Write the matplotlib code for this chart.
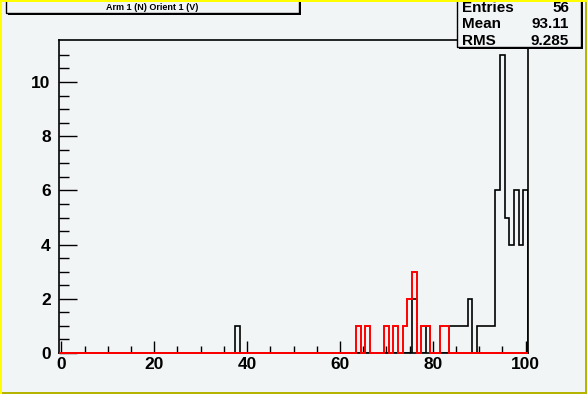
import numpy as np
import matplotlib.pyplot as plt
from matplotlib.patches import Rectangle

# datos del histograma (bins de ancho 1, centrados en enteros 0..100)
black_bins = [38, 76, 79, 84, 85, 86, 87, 88, 90, 91, 92, 93, 94, 95, 96, 97, 98, 99, 100]
black_counts = [1, 2, 1, 1, 1, 1, 1, 2, 1, 1, 1, 1, 6, 11, 5, 4, 6, 4, 6]
red_bins = [64, 66, 70, 72, 74, 75, 76, 78, 79, 82, 83]
red_counts = [1, 1, 1, 1, 1, 2, 3, 1, 1, 1, 1]

title = "Arm 1 (N) Orient 1 (V)"
stat_names = ["Entries", "Mean", "RMS"]
stat_values = ["56", "93.11", "9.285"]

W, H = 587, 394
BG = '#f2f5f6'

edges = np.arange(-0.5, 101.5, 1.0)
black = np.zeros(101)
black[black_bins] = black_counts
red = np.zeros(101)
red[red_bins] = red_counts

plt.rcParams['font.family'] = ['Liberation Sans', 'DejaVu Sans']
plt.rcParams['font.weight'] = 'bold'

fig = plt.figure(figsize=(W / 100, H / 100), dpi=100, facecolor=BG)


def fx(x):
    return x / W


def fy(y):
    return 1 - y / H


# marco
ax = fig.add_axes([fx(59), fy(353), fx(528) - fx(59), fy(40) - fy(353)])
ax.set_facecolor(BG)
ax.stairs(black, edges, color='black', lw=1.2, baseline=0, zorder=3)
ax.stairs(red, edges, color='red', lw=1.4, baseline=0, clip_on=False, zorder=4)
ax.set_xlim(-0.5, 100.5)
ax.set_ylim(0, 11.55)

ax.set_xticks(np.arange(0, 101, 20))
ax.set_xticks(np.arange(0, 101, 5), minor=True)
ax.set_yticks(np.arange(0, 11, 2))
ax.set_yticks(np.arange(0, 11.5, 0.5), minor=True)
ax.tick_params(axis='x', which='major', direction='in', length=9, width=1, labelsize=12.5, pad=3)
ax.tick_params(axis='x', which='minor', direction='in', length=5, width=1)
ax.tick_params(axis='y', which='major', direction='in', length=13, width=1, labelsize=12.5, pad=6)
ax.tick_params(axis='y', which='minor', direction='in', length=7, width=1)
for lab in ax.get_xticklabels() + ax.get_yticklabels():
    lab.set_fontweight('bold')
for s in ax.spines.values():
    s.set_linewidth(1.2)

# caja del titulo
fig.patches.append(Rectangle((fx(8), fy(15)), fx(293), fy(0) - fy(15) + 0.02,
                             transform=fig.transFigure, facecolor='black', edgecolor='none', zorder=5))
fig.patches.append(Rectangle((fx(6), fy(13)), fx(293), fy(0) - fy(13) + 0.02,
                             transform=fig.transFigure, facecolor=BG, edgecolor='black', lw=1, zorder=6))
fig.text(fx(152), fy(7.5), title, ha='center', va='center', fontsize=6.5, fontweight='bold', zorder=7)

# caja de estadisticas
fig.patches.append(Rectangle((fx(459), fy(49)), fx(124), fy(0) - fy(49) + 0.02,
                             transform=fig.transFigure, facecolor='black', edgecolor='none', zorder=5))
fig.patches.append(Rectangle((fx(457), fy(47)), fx(124), fy(0) - fy(47) + 0.02,
                             transform=fig.transFigure, facecolor=BG, edgecolor='black', lw=1, zorder=6))
for i, (n, v) in enumerate(zip(stat_names, stat_values)):
    yy = 8 + 16.5 * i
    fig.text(fx(462), fy(yy), n, ha='left', va='center', fontsize=11, fontweight='bold', zorder=7)
    fig.text(fx(569), fy(yy), v, ha='right', va='center', fontsize=11, fontweight='bold', zorder=7)

# borde del canvas
fig.patches.append(Rectangle((0, 0), fx(2), 1, transform=fig.transFigure, facecolor='#ffff00', edgecolor='none', zorder=10))
fig.patches.append(Rectangle((0, fy(2)), 1, 1 - fy(2), transform=fig.transFigure, facecolor='#ffff00', edgecolor='none', zorder=10))
fig.patches.append(Rectangle((fx(585), 0), 1 - fx(585), fy(2), transform=fig.transFigure, facecolor='#b5b500', edgecolor='none', zorder=10))
fig.patches.append(Rectangle((fx(2), 0), 1, fy(392), transform=fig.transFigure, facecolor='#b5b500', edgecolor='none', zorder=10))

fig.savefig('out.png', dpi=100, facecolor=BG)
